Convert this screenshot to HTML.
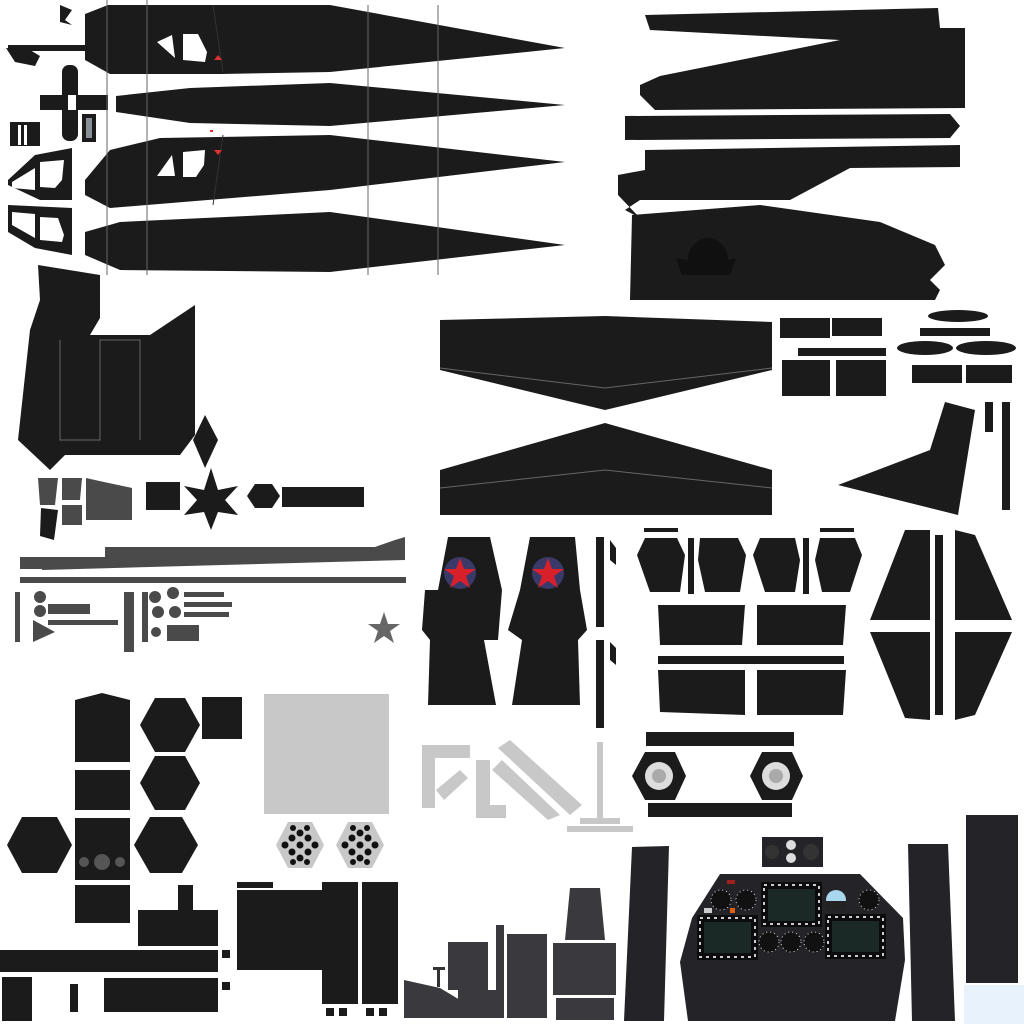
<!DOCTYPE html>
<html><head><meta charset="utf-8"><style>html,body{margin:0;padding:0;background:#fff;width:1024px;height:1024px;overflow:hidden}</style></head>
<body>
<svg width="1024" height="1024" viewBox="0 0 1024 1024" xmlns="http://www.w3.org/2000/svg">
<g fill="#1b1b1b">
<polygon points="85,14 108,5 330,5 565,48 330,72 220,74 110,74 85,60"/>
<polygon points="116,96 190,88 330,83 565,105 330,126 190,123 116,112"/>
<polygon points="85,180 110,150 160,138 330,135 565,162 330,190 110,208 85,195"/>
<polygon points="85,232 120,222 330,212 565,245 330,272 120,270 85,255"/>
<polygon points="60,5 72,10 65,20 72,25 60,22"/>
<rect x="8" y="45" width="78" height="6"/>
<polygon points="6,48 30,50 40,56 35,66 15,62"/>
<rect x="40" y="95" width="68" height="15"/><rect x="62" y="65" width="16" height="76" rx="7"/>
<rect x="82" y="114" width="14" height="28"/>
<rect x="10" y="122" width="30" height="24"/>
<polygon points="8,185 8,180 35,155 72,148 72,200 40,200"/>
<polygon points="8,205 72,208 72,255 35,248 8,232"/>
<polygon points="645,15 938,8 940,28 965,28 965,108 655,110 640,95 640,85 660,76 840,40 650,30"/>
<polygon points="625,116 950,114 960,126 950,138 625,140"/>
<polygon points="645,150 960,145 960,167 850,168 790,200 640,200 625,210 640,218 618,195 618,175 645,170"/>
<polygon points="632,215 760,205 880,222 935,245 945,265 930,280 940,290 935,300 630,300"/>
<polygon points="38,265 100,275 100,318 90,335 150,335 195,305 195,435 180,455 65,455 50,470 18,440 30,330 40,300"/>
<polygon points="205,415 218,440 205,468 193,440"/>
<rect x="146" y="482" width="34" height="28"/>
<polygon points="211,468 218,490 238,486 225,500 238,515 218,512 211,530 204,512 184,515 197,500 184,486 204,490"/>
<polygon points="255,484 272,484 280,496 272,508 255,508 247,496"/>
<rect x="282" y="487" width="82" height="20"/>
<polygon points="440,320 605,316 772,322 772,370 605,410 440,370"/>
<polygon points="440,470 605,423 772,470 772,515 440,515"/>
<rect x="780" y="318" width="50" height="20"/><rect x="832" y="318" width="50" height="18"/>
<rect x="798" y="348" width="88" height="8"/><rect x="782" y="360" width="48" height="36"/><rect x="836" y="360" width="50" height="36"/>
<ellipse cx="958" cy="316" rx="30" ry="6"/><rect x="920" y="328" width="70" height="8"/>
<ellipse cx="925" cy="348" rx="28" ry="7"/><ellipse cx="986" cy="348" rx="30" ry="7"/>
<rect x="912" y="365" width="50" height="18"/><rect x="966" y="365" width="46" height="18"/>
<polygon points="838,485 930,450 945,402 975,410 958,515"/>
<rect x="985" y="402" width="8" height="30"/><rect x="1002" y="402" width="8" height="108"/>
<polygon points="448,537 490,537 502,590 498,640 484,640 496,705 428,705 430,640 422,630 425,590 438,590"/>
<polygon points="530,537 575,537 580,590 587,630 578,640 580,705 512,705 522,640 508,630 520,590"/>
<rect x="596" y="537" width="8" height="90"/><rect x="596" y="640" width="8" height="88"/>
<polygon points="610,540 616,548 616,565 610,560"/><polygon points="610,642 616,648 616,665 610,660"/>
<polygon points="645,538 677,538 685,555 680,592 650,592 637,555"/>
<polygon points="700,538 738,538 746,555 740,592 705,592 698,560"/>
<polygon points="760,538 795,538 800,560 795,592 765,592 753,555"/>
<polygon points="820,538 855,538 862,555 850,592 822,592 815,560"/>
<rect x="644" y="528" width="34" height="4"/><rect x="820" y="528" width="34" height="4"/>
<rect x="688" y="538" width="6" height="56"/><rect x="803" y="538" width="6" height="56"/>
<polygon points="658,605 745,605 742,645 660,645"/><polygon points="757,605 846,605 843,645 757,645"/>
<rect x="658" y="656" width="186" height="8"/>
<polygon points="658,670 745,670 745,715 660,712"/><polygon points="757,670 846,670 843,715 757,715"/>
<polygon points="905,530 930,530 930,620 870,620"/><polygon points="955,530 975,535 1012,620 955,620"/>
<polygon points="870,632 930,632 930,720 905,718"/><polygon points="955,632 1012,632 975,715 955,720"/>
<rect x="935" y="535" width="8" height="180"/>
<rect x="646" y="732" width="148" height="14"/><rect x="648" y="803" width="144" height="14"/>
<polygon points="645,752 675,752 686,776 675,800 645,800 632,776"/>
<polygon points="762,752 792,752 803,776 792,800 762,800 750,776"/>
<polygon points="75,700 102,693 130,700 130,762 75,762"/>
<rect x="75" y="770" width="55" height="40"/>
<polygon points="75,818 130,818 130,880 75,880"/>
<rect x="75" y="885" width="55" height="38"/>
<polygon points="155,698 185,698 200,725 185,752 155,752 140,725"/>
<polygon points="155,756 185,756 200,783 185,810 155,810 140,783"/>
<polygon points="150,817 182,817 198,845 182,873 150,873 134,845"/>
<polygon points="22,817 57,817 72,845 57,873 22,873 7,845"/>
<rect x="202" y="697" width="40" height="42"/>
<rect x="178" y="885" width="15" height="30"/><rect x="138" y="910" width="80" height="36"/>
<rect x="0" y="950" width="218" height="22"/><rect x="222" y="950" width="8" height="8"/>
<rect x="2" y="977" width="30" height="44"/><rect x="70" y="984" width="8" height="28"/><rect x="104" y="978" width="114" height="34"/>
<rect x="222" y="982" width="8" height="8"/>
<rect x="237" y="882" width="36" height="6"/><rect x="237" y="890" width="85" height="80"/>
<rect x="322" y="882" width="36" height="122"/><rect x="362" y="882" width="36" height="122"/>
<rect x="326" y="1008" width="8" height="8"/><rect x="339" y="1008" width="8" height="8"/><rect x="366" y="1008" width="8" height="8"/><rect x="379" y="1008" width="8" height="8"/>
</g>
<g stroke="#666" stroke-width="1" fill="none">
<line x1="107" y1="0" x2="107" y2="275"/><line x1="147" y1="0" x2="147" y2="275"/>
<line x1="368" y1="5" x2="368" y2="275"/><line x1="438" y1="5" x2="438" y2="275"/>
<polyline points="440,368 605,388 772,368"/><polyline points="440,488 605,470 772,488"/>
<polyline points="60,340 60,440 100,440 100,340 140,340 140,440"/>
</g>
<g stroke="#333" stroke-width="1" fill="none">
<line x1="213" y1="5" x2="223" y2="72"/><line x1="223" y1="135" x2="213" y2="205"/>
</g>
<g fill="#fff">
<polygon points="157,42 172,35 175,58"/>
<polygon points="183,34 198,34 207,52 205,62 183,60"/>
<polygon points="157,176 172,155 175,176"/>
<polygon points="183,152 205,150 204,165 196,177 183,177"/>
<polygon points="12,188 12,182 35,168 35,190"/>
<polygon points="40,162 64,160 62,180 55,188 40,187"/>
<polygon points="12,212 35,214 35,238 12,225"/>
<polygon points="40,217 58,218 64,235 62,242 40,240"/>
<rect x="68" y="95" width="8" height="15"/>
</g>
<rect x="86" y="118" width="6" height="20" fill="#8a9098"/>
<g fill="#e03030"><polygon points="218,55 222,60 214,60"/><polygon points="214,150 222,150 218,155"/><rect x="210" y="130" width="3" height="2"/></g>
<g fill="#1b1b1b">
<rect x="35" y="158" width="5" height="34"/><rect x="35" y="212" width="5" height="33"/>
</g>
<rect x="18" y="125" width="3" height="20" fill="#fff"/><rect x="24" y="125" width="3" height="20" fill="#fff"/>
<path d="M688,260 A20,22 0 0 1 728,260 L736,258 L730,275 L682,275 L676,258 Z" fill="#101010"/>
<g fill="#4a4a4a">
<polygon points="38,478 58,478 55,505 40,505"/><polygon points="62,478 82,478 80,500 62,500"/><rect x="62" y="505" width="20" height="20"/>
<polygon points="86,478 104,482 132,488 132,520 86,520"/>
<rect x="20" y="557" width="22" height="12"/><polygon points="42,557 105,557 105,547 375,547 395,540 405,537 405,560 42,570"/>
<rect x="20" y="577" width="386" height="6"/>
<rect x="15" y="592" width="5" height="50"/><rect x="124" y="592" width="10" height="60"/>
<circle cx="40" cy="597" r="6"/><circle cx="40" cy="611" r="6"/>
<rect x="48" y="604" width="42" height="10"/><rect x="48" y="620" width="70" height="5"/>
<polygon points="33,620 55,632 33,642"/>
<circle cx="155" cy="597" r="6"/><circle cx="173" cy="593" r="6"/><circle cx="175" cy="612" r="6"/><circle cx="158" cy="612" r="6"/><circle cx="156" cy="632" r="5"/>
<rect x="184" y="592" width="40" height="5"/><rect x="184" y="602" width="48" height="5"/><rect x="184" y="612" width="45" height="5"/>
<rect x="167" y="625" width="32" height="16"/>
<rect x="142" y="592" width="6" height="50"/>
</g>
<polygon points="384,612 388,624 400,624 390,631 394,643 384,636 374,643 378,631 368,624 380,624" fill="#666"/>
<polygon points="41,508 58,510 54,540 40,536" fill="#1b1b1b"/>
<circle cx="460" cy="573" r="16" fill="#3a3a6a"/>
<polygon points="460,558 464,569 476,569 466,576 470,588 460,581 450,588 454,576 444,569 456,569" fill="#d8202a"/>
<circle cx="548" cy="573" r="16" fill="#3a3a6a"/>
<polygon points="548,558 552,569 564,569 554,576 558,588 548,581 538,588 542,576 532,569 544,569" fill="#d8202a"/>
<circle cx="659" cy="776" r="14" fill="#ddd"/><circle cx="659" cy="776" r="7" fill="#aaa"/>
<circle cx="776" cy="776" r="14" fill="#ddd"/><circle cx="776" cy="776" r="7" fill="#aaa"/>
<rect x="264" y="694" width="125" height="120" fill="#c8c8c8"/>
<g fill="#c8c8c8">
<polygon points="422,745 470,745 470,758 435,758 435,808 422,808"/>
<polygon points="436,790 460,770 468,778 444,800"/>
<rect x="476" y="760" width="14" height="58"/><rect x="476" y="805" width="30" height="13"/>
<polygon points="498,748 510,740 582,805 570,815"/><polygon points="492,770 502,760 560,815 548,820"/>
<rect x="597" y="742" width="6" height="78"/><rect x="580" y="818" width="40" height="6"/><rect x="567" y="826" width="66" height="6"/>
<polygon points="288,822 312,822 324,845 312,868 288,868 276,845"/>
<polygon points="348,822 372,822 384,845 372,868 348,868 336,845"/>
</g>
<g fill="#111">
<circle cx="300" cy="833" r="3.5"/><circle cx="292" cy="838" r="3.5"/><circle cx="308" cy="838" r="3.5"/><circle cx="285" cy="845" r="3.5"/><circle cx="300" cy="845" r="3.5"/><circle cx="315" cy="845" r="3.5"/><circle cx="292" cy="852" r="3.5"/><circle cx="308" cy="852" r="3.5"/><circle cx="300" cy="858" r="3.5"/><circle cx="293" cy="828" r="3"/><circle cx="307" cy="828" r="3"/><circle cx="293" cy="862" r="3"/><circle cx="307" cy="862" r="3"/>
<circle cx="360" cy="833" r="3.5"/><circle cx="352" cy="838" r="3.5"/><circle cx="368" cy="838" r="3.5"/><circle cx="345" cy="845" r="3.5"/><circle cx="360" cy="845" r="3.5"/><circle cx="375" cy="845" r="3.5"/><circle cx="352" cy="852" r="3.5"/><circle cx="368" cy="852" r="3.5"/><circle cx="360" cy="858" r="3.5"/><circle cx="353" cy="828" r="3"/><circle cx="367" cy="828" r="3"/><circle cx="353" cy="862" r="3"/><circle cx="367" cy="862" r="3"/>
</g>
<circle cx="102" cy="862" r="8" fill="#555"/><circle cx="84" cy="862" r="5" fill="#555"/><circle cx="120" cy="862" r="5" fill="#555"/>
<g fill="#3a3a3e">
<polygon points="404,980 440,988 460,1000 460,1018 404,1018"/>
<rect x="448" y="942" width="40" height="48"/><polygon points="458,990 496,990 496,925 504,925 504,1018 458,1018"/>
<rect x="507" y="934" width="40" height="84"/>
<polygon points="570,888 600,888 605,940 565,940"/><rect x="553" y="943" width="63" height="52"/><rect x="556" y="998" width="58" height="22"/>
</g>
<rect x="437" y="967" width="3" height="20" fill="#333"/><rect x="433" y="967" width="12" height="3" fill="#333"/>
<g fill="#232328">
<polygon points="632,847 669,846 664,1021 624,1021"/>
<polygon points="908,844 948,844 955,1021 912,1021"/>
<rect x="966" y="815" width="52" height="168"/>
<rect x="762" y="837" width="61" height="30"/>
<polygon points="720,874 860,874 903,918 905,960 895,1021 688,1021 680,962 692,918"/>
</g>
<rect x="964" y="985" width="60" height="39" fill="#e8f2fc"/>
<circle cx="772" cy="852" r="7" fill="#333"/><circle cx="791" cy="845" r="5" fill="#ddd"/><circle cx="791" cy="858" r="5" fill="#ddd"/><circle cx="811" cy="852" r="8" fill="#333"/>
<g fill="#0c0c0e"><rect x="761" y="882" width="61" height="45"/><rect x="697" y="915" width="61" height="45"/><rect x="825" y="914" width="61" height="45"/></g>
<g fill="#1a2826"><rect x="768" y="889" width="47" height="32"/><rect x="704" y="922" width="47" height="31"/><rect x="832" y="921" width="47" height="31"/></g>
<g fill="none" stroke="#ccc" stroke-width="2" stroke-dasharray="3,4">
<rect x="764" y="885" width="55" height="39"/><rect x="700" y="918" width="55" height="39"/><rect x="828" y="917" width="55" height="39"/>
</g>
<g fill="#111" stroke="#ddd" stroke-width="1" stroke-dasharray="1,3"><circle cx="721" cy="900" r="10"/><circle cx="746" cy="900" r="10"/><circle cx="869" cy="900" r="10"/><circle cx="769" cy="942" r="10"/><circle cx="791" cy="942" r="10"/><circle cx="814" cy="942" r="10"/></g>
<circle cx="836" cy="900" r="10" fill="#a8d8f0"/><rect x="826" y="901" width="20" height="9" fill="#222"/>
<rect x="727" y="880" width="8" height="4" fill="#a02020"/><rect x="704" y="908" width="8" height="5" fill="#ccc"/><rect x="730" y="908" width="5" height="5" fill="#e06010"/>
</svg>
</body></html>
